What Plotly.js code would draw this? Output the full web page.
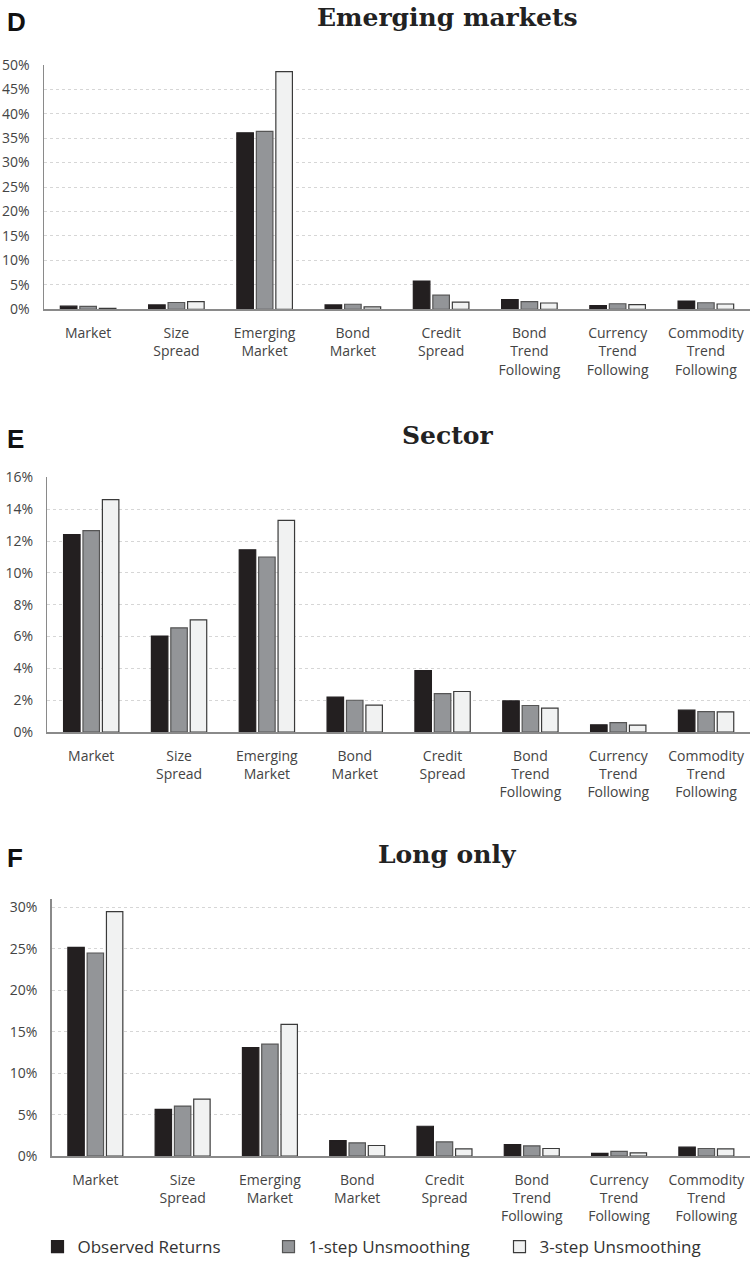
<!DOCTYPE html>
<html><head><meta charset="utf-8">
<script src="https://cdn.plot.ly/plotly-3.0.1.min.js"></script>
<style>html,body{margin:0;padding:0;background:#fff;overflow:hidden}#chart{width:750px;height:1265px}</style>
</head><body><div id="chart"></div>
<script>
const categories = ["Market","Size<br>Spread","Emerging<br>Market","Bond<br>Market","Credit<br>Spread","Bond<br>Trend<br>Following","Currency<br>Trend<br>Following","Commodity<br>Trend<br>Following"];
const seriesNames = ["Observed Returns","1-step Unsmoothing","3-step Unsmoothing"];
const panelTitles = ["Emerging markets","Sector","Long only"];
const panelLetters = ["D","E","F"];

// Panel D: Emerging markets (%)
const emObserved = [0.65,0.9,36.1,0.9,5.8,2.0,0.75,1.7];
const emOneStep  = [0.6,1.4,36.4,1.05,2.9,1.6,1.15,1.35];
const emThreeStep= [0.2,1.6,48.6,0.5,1.5,1.3,0.95,1.1];
// Panel E: Sector (%)
const secObserved = [12.4,6.03,11.45,2.2,3.86,1.96,0.46,1.38];
const secOneStep  = [12.66,6.55,11.0,2.0,2.42,1.67,0.6,1.29];
const secThreeStep= [14.6,7.05,13.3,1.7,2.55,1.5,0.44,1.27];
// Panel F: Long only (%)
const loObserved = [25.17,5.64,13.1,1.88,3.6,1.4,0.32,1.08];
const loOneStep  = [24.5,6.04,13.5,1.6,1.72,1.24,0.56,0.92];
const loThreeStep= [29.5,6.88,15.9,1.28,0.88,0.92,0.4,0.88];

const W = 750, H = 1265;
const fills = ["#231f20","#939598","#f1f2f2"];
const lines = ["#231f20","#555555","#3a3a3a"];
const panels = [
  {data:[emObserved,emOneStep,emThreeStep], left:44, top:65, bottom:310.6, range:[0,50], dtick:5},
  {data:[secObserved,secOneStep,secThreeStep], left:47.3, top:479.3, bottom:735, range:[0,16], dtick:2},
  {data:[loObserved,loOneStep,loThreeStep], left:51.7, top:902.7, bottom:1160.7, range:[0,31], dtick:5, tickvals:[0,5,10,15,20,25,30]}
];

const traces = [];
const layout = {
  width: W, height: H,
  margin: {l:0, r:0, t:0, b:0, pad:0},
  paper_bgcolor: "#fff", plot_bgcolor: "#fff",
  barmode: "group", bargap: 0.337, bargroupgap: 0.15,
  showlegend: true,
  legend: {orientation:"h", x:0.05, xanchor:"left", y:1-1252/H, yanchor:"middle",
           bgcolor:"rgba(0,0,0,0)", borderwidth:0,
           font:{family:"Open Sans, sans-serif", size:17, color:"#333"},
           entrywidth: 186, entrywidthmode:"pixels", traceorder:"normal", itemwidth:30},
  annotations: [], font:{family:"Open Sans, sans-serif"}
};

panels.forEach((p, i) => {
  const ax = i === 0 ? "" : String(i+1);
  seriesNames.forEach((name, s) => {
    traces.push({
      type:"bar", name:name, x:categories, y:p.data[s],
      xaxis:"x"+ax, yaxis:"y"+ax,
      marker:{color:fills[s], line:{color:lines[s], width:1.2}},
      showlegend: i === 0, legendgroup: name, hoverinfo:"skip"
    });
  });
  const yv = {
    domain:[1-p.bottom/H, 1-p.top/H], range:p.range, fixedrange:true,
    showline:true, linecolor:"#8a8a8a", linewidth:1.5,
    showgrid:true, gridcolor:"#d6d6d6", griddash:"dot", gridwidth:1,
    zeroline:false, ticksuffix:"%", ticks:"", automargin:false, ticklabelstandoff:10,
    tickfont:{family:"Open Sans, sans-serif", size:14, color:"#444"},
    anchor:"x"+ax
  };
  if (p.tickvals) { yv.tickmode="array"; yv.tickvals=p.tickvals; yv.ticktext=p.tickvals.map(v=>v+"%"); }
  else { yv.dtick = p.dtick; yv.tick0 = 0; }
  layout["yaxis"+ax] = yv;
  layout["xaxis"+ax] = {
    domain:[p.left/W, 1], fixedrange:true, showline:true, linecolor:"#8a8a8a", linewidth:2,
    ticks:"", automargin:false, anchor:"y"+ax, ticklabelstandoff:10,
    tickfont:{family:"Open Sans, sans-serif", size:14, color:"#444"}
  };
  const titleY = [18, 437, 858][i];
  const letterY = [22, 441, 861][i];
  layout.annotations.push({
    xref:"paper", yref:"paper", x:447/W, y:1-titleY/H, xanchor:"center", yanchor:"middle",
    text:"<b>"+panelTitles[i]+"</b>", showarrow:false,
    font:{family:"DejaVu Serif, serif", size:25, color:"#222"}
  });
  layout.annotations.push({
    xref:"paper", yref:"paper", x:5/W, y:1-letterY/H, xanchor:"left", yanchor:"middle",
    text:"<b>"+panelLetters[i]+"</b>", showarrow:false,
    font:{family:"Liberation Sans, Arial, sans-serif", size:26, color:"#111"}
  });
});

Plotly.newPlot("chart", traces, layout, {displayModeBar:false, staticPlot:true});
</script>
</body></html>
